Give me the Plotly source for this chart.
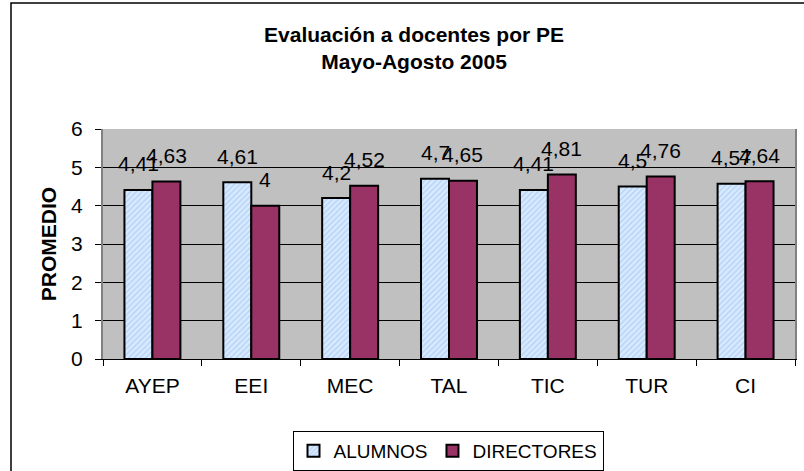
import plotly.graph_objects as go

categories = ["AYEP", "EEI", "MEC", "TAL", "TIC", "TUR", "CI"]
alumnos = [4.41, 4.61, 4.2, 4.7, 4.41, 4.5, 4.57]
directores = [4.63, 4.0, 4.52, 4.65, 4.81, 4.76, 4.64]
y_ticks = [0, 1, 2, 3, 4, 5, 6]

W, H = 804, 471
L, R, T, B = 103, 9, 129, 112
PW, PH = W - L - R, H - T - B
bargap = 0.434
FONT = "Liberation Sans, Arial, sans-serif"


def fmt(v):
    s = ("%g" % v)
    return s.replace(".", ",")


fig = go.Figure()
fig.add_trace(go.Bar(
    name="ALUMNOS", x=categories, y=alumnos,
    marker=dict(color="#A9CFFA",
                line=dict(color="black", width=2),
                pattern=dict(shape="/", fgcolor="#8DB9EE", bgcolor="#D9EAFF",
                             size=4, solidity=0.35)),
))
fig.add_trace(go.Bar(
    name="DIRECTORES", x=categories, y=directores,
    marker=dict(color="#993366", line=dict(color="black", width=2)),
))

half = (1 - bargap) / 4
annotations = []
for i, (a, d) in enumerate(zip(alumnos, directores)):
    for off, v in ((-half, a), (half, d)):
        annotations.append(dict(
            x=i + off, y=v, xref="x", yref="y", text=fmt(v), showarrow=False,
            yshift=26, yanchor="middle", xanchor="center",
            font=dict(family=FONT, size=21, color="black"),
        ))

fig.update_layout(
    width=W, height=H,
    margin=dict(l=L, r=R, t=T, b=B, pad=0, autoexpand=False),
    paper_bgcolor="white",
    plot_bgcolor="#C0C0C0",
    barmode="group", bargap=bargap, bargroupgap=0,
    font=dict(family=FONT, size=20, color="black"),
    title=dict(
        text="<b>Evaluación a docentes por PE<br>Mayo-Agosto 2005</b>",
        x=0.515, xref="container", xanchor="center",
        y=1 - 42 / H, yref="container", yanchor="top",
        font=dict(family=FONT, size=21, color="black"),
    ),
    showlegend=True,
    legend=dict(
        orientation="h", x=(448 - L) / PW, xanchor="center",
        y=(359 - 431) / PH, yanchor="top",
        bordercolor="black", borderwidth=1, bgcolor="white",
        font=dict(family=FONT, size=19, color="black"),
        itemwidth=30, tracegroupgap=0,
    ),
    annotations=annotations,
    shapes=[dict(type="rect", xref="paper", yref="paper",
                 x0=(11 - L) / PW, x1=1.2,
                 y0=-1.0, y1=(359 - 3) / PH,
                 line=dict(color="black", width=1.5), fillcolor="rgba(0,0,0,0)",
                 layer="below")],
)

fig.update_xaxes(
    type="category", showgrid=False,
    showline=True, linecolor="black", linewidth=1, mirror=False,
    ticks="outside", tickson="boundaries", ticklen=6, tickcolor="black",
    ticklabelstandoff=8,
    tickfont=dict(family=FONT, size=21, color="black"),
)
fig.update_yaxes(
    range=[0, 6], tickvals=y_ticks, ticktext=[str(v) for v in y_ticks],
    showgrid=True, gridcolor="black", gridwidth=1,
    zeroline=False,
    showline=True, linecolor="#808080", linewidth=2, mirror=True,
    ticks="outside", ticklen=6, tickcolor="black",
    ticklabelstandoff=8,
    tickfont=dict(family=FONT, size=21, color="black"),
    title=dict(text="<b>PROMEDIO</b>", standoff=9,
               font=dict(family=FONT, size=21, color="black")),
)

fig.write_html("out.html",
               config={"displayModeBar": False},
               post_script="document.body.style.margin='0';document.body.style.overflow='hidden';")
